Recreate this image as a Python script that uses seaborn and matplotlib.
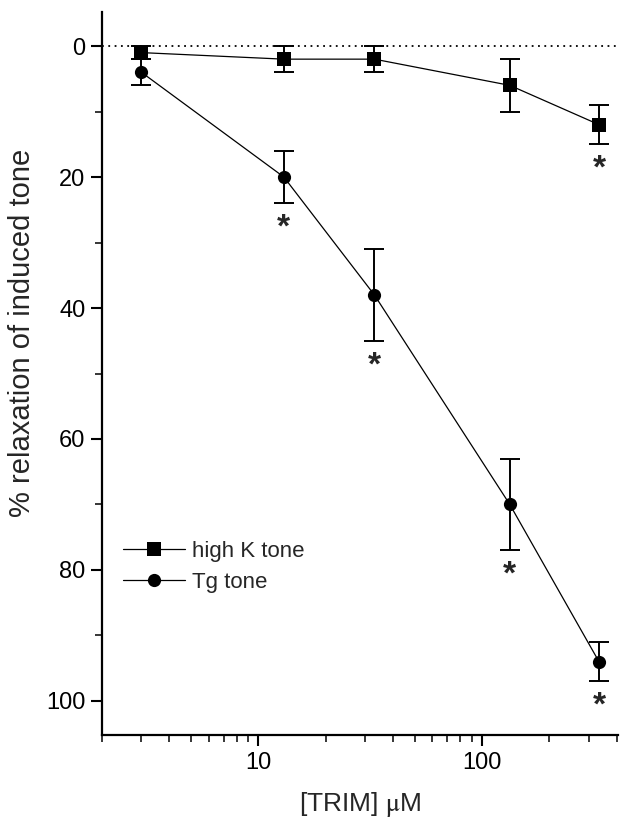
import numpy as np
import pandas as pd
import matplotlib
matplotlib.use("Agg")
import matplotlib.pyplot as plt
from matplotlib.ticker import FixedLocator, LogLocator, NullFormatter
import seaborn as sns

# ── Data ──────────────────────────────────────────────────────────────────────
trim_uM    = [3, 13, 33, 133, 333]
highk_mean = [1, 2, 2, 6, 12]
highk_err  = [1, 2, 2, 4, 3]
tg_mean    = [4, 20, 38, 70, 94]
tg_err     = [2, 4, 7, 7, 3]
highk_sig  = [False, False, False, False, True]
tg_sig     = [False, True, True, True, True]

SERIES = [
    ("high K tone", highk_mean, highk_err, highk_sig, "s"),
    ("Tg tone",     tg_mean,    tg_err,    tg_sig,    "o"),
]

# ── Style ─────────────────────────────────────────────────────────────────────
sns.set_style("ticks")
plt.rcParams["font.family"] = ["Liberation Sans", "DejaVu Sans"]
plt.rcParams["mathtext.fontset"] = "stix"

fig = plt.figure(figsize=(6.2, 8.19), dpi=100)
ax = fig.add_axes([102 / 620, 1 - 735 / 819, (618 - 102) / 620, (735 - 12) / 819])
ax.set_xscale("log")

ax.axhline(0, color="black", lw=1.3, ls=(0, (1, 2.5)), zorder=1)

for name, mean, err, sig, marker in SERIES:
    df = pd.DataFrame({"conc": trim_uM, "val": mean})
    sns.lineplot(data=df, x="conc", y="val", ax=ax, color="black", lw=0.9,
                 marker=marker, markersize=9.5, markeredgecolor="black",
                 markeredgewidth=0, label=name, legend=False, zorder=3)
    ax.errorbar(trim_uM, mean, yerr=err, fmt="none", ecolor="black",
                elinewidth=1.4, capsize=7.5, capthick=1.4, zorder=2)
    for x, m, e, s in zip(trim_uM, mean, err, sig):
        if s:
            ax.text(x, m + e + 3.3, "*", ha="center", va="center_baseline",
                    fontsize=24, fontweight="bold")

leg_lines = [l for l in ax.get_lines() if l.get_label() in ("high K tone", "Tg tone")]
ax.legend(handles=leg_lines, loc="upper left", bbox_to_anchor=(0.01, 0.29),
          frameon=False, fontsize=16, handlelength=2.8, handletextpad=0.3,
          labelspacing=0.45, borderaxespad=0.3)

# ── Axes ──────────────────────────────────────────────────────────────────────
ax.set_xlim(2, 405)
ax.set_ylim(105.2, -5.2)
ax.set_yticks([0, 20, 40, 60, 80, 100])
ax.yaxis.set_minor_locator(FixedLocator([10, 30, 50, 70, 90]))
ax.xaxis.set_major_locator(FixedLocator([10, 100]))
ax.set_xticklabels(["10", "100"])
ax.xaxis.set_minor_locator(LogLocator(base=10, subs=np.arange(2, 10)))
ax.xaxis.set_minor_formatter(NullFormatter())

ax.tick_params(which="major", direction="out", length=8, width=1.5,
               labelsize=17, colors="black", pad=4)
ax.tick_params(which="minor", direction="out", length=5, width=1.3)
for side in ("top", "right"):
    ax.spines[side].set_visible(False)
for side in ("left", "bottom"):
    ax.spines[side].set_linewidth(1.6)
    ax.spines[side].set_color("black")

ax.set_xlabel(r"[TRIM] $\mathrm{\mu}$M", fontsize=19, labelpad=12)
ax.set_ylabel("% relaxation of induced tone", fontsize=21)
ax.yaxis.set_label_coords(-0.128, 0.556)

fig.savefig("out.png", dpi=100)
